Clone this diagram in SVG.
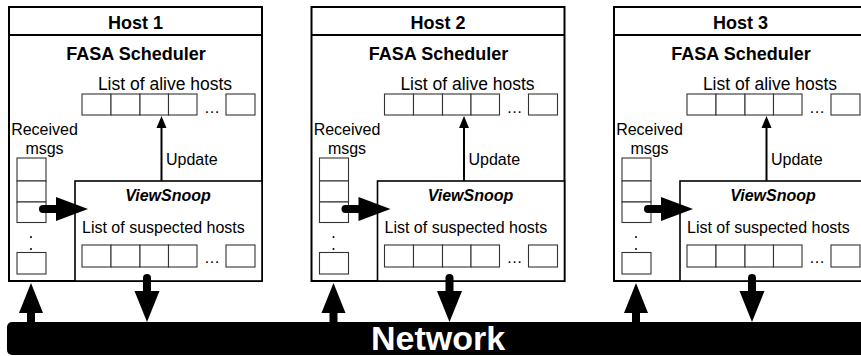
<svg xmlns="http://www.w3.org/2000/svg" width="861" height="356" viewBox="0 0 861 356">
  <defs>
    <style>
      text { font-family: "Liberation Sans", Arial, sans-serif; fill: #000; }
      .host { fill: #fff; stroke: #000; stroke-width: 2; }
      .sep { stroke: #000; stroke-width: 2; }
      .vs { fill: #fff; stroke: #000; stroke-width: 1.6; }
      .cell { fill: #fff; stroke: #333; stroke-width: 1.1; }
      .title { font-size: 18px; font-weight: bold; text-anchor: middle; }
      .label { font-size: 16px; }
      .big { font-size: 17.5px; }
      .mid { text-anchor: middle; }
      .vstitle { font-size: 16px; font-weight: bold; font-style: italic; text-anchor: middle; }
      .thin { stroke: #000; stroke-width: 2; fill: none; }
      .thick { stroke: #000; stroke-width: 8; stroke-linecap: round; fill: none; }
      .head { fill: #000; }
      .dot { fill: #000; }
    </style>
  </defs>

  <!-- network bus -->
  <g id="network">
    <rect x="7" y="322" width="880" height="33" rx="5" fill="#000"/>
    <text x="438" y="350" style="font-size:34px;font-weight:bold;fill:#fff;text-anchor:middle">Network</text>
  </g>

  <!-- hosts -->
  <g id="host1">
    <rect class="host" x="9" y="7" width="253" height="274"/>
    <line class="sep" x1="9" y1="35" x2="262" y2="35"/>
    <text class="title" x="135.5" y="29">Host 1</text>
    <text class="title" x="136" y="60">FASA Scheduler</text>
    <text class="label big mid" x="165" y="90">List of alive hosts</text>
    <rect class="cell" x="82" y="94" width="29" height="21"/>
    <rect class="cell" x="111" y="94" width="29" height="21"/>
    <rect class="cell" x="140" y="94" width="28.5" height="21"/>
    <rect class="cell" x="168.5" y="94" width="28.5" height="21"/>
    <text class="label mid" x="212" y="113">…</text>
    <rect class="cell" x="226" y="94" width="29" height="21"/>
    <text class="label mid" x="44.5" y="135">Received</text>
    <text class="label mid" x="44.5" y="154">msgs</text>
    <rect class="cell" x="17" y="158" width="29" height="23"/>
    <rect class="cell" x="17" y="181" width="29" height="21"/>
    <rect class="cell" x="17" y="202" width="29" height="20.5"/>
    <circle class="dot" cx="31" cy="237" r="1"/>
    <circle class="dot" cx="31" cy="249" r="1"/>
    <rect class="cell" x="17" y="252.5" width="29" height="21.5"/>
    <rect class="vs" x="75" y="181" width="187" height="100"/>
    <text class="label" x="166" y="165">Update</text>
    <text class="vstitle" x="168" y="201">ViewSnoop</text>
    <text class="label" x="82" y="233">List of suspected hosts</text>
    <rect class="cell" x="82" y="245" width="29" height="22"/>
    <rect class="cell" x="111" y="245" width="29" height="22"/>
    <rect class="cell" x="140" y="245" width="28.5" height="22"/>
    <rect class="cell" x="168.5" y="245" width="28.5" height="22"/>
    <text class="label mid" x="212" y="263">…</text>
    <rect class="cell" x="226" y="245" width="29" height="22"/>
  </g>

  <g id="host2" transform="translate(302.5,0)">
    <rect class="host" x="9" y="7" width="253" height="274"/>
    <line class="sep" x1="9" y1="35" x2="262" y2="35"/>
    <text class="title" x="135.5" y="29">Host 2</text>
    <text class="title" x="136" y="60">FASA Scheduler</text>
    <text class="label big mid" x="165" y="90">List of alive hosts</text>
    <rect class="cell" x="82" y="94" width="29" height="21"/>
    <rect class="cell" x="111" y="94" width="29" height="21"/>
    <rect class="cell" x="140" y="94" width="28.5" height="21"/>
    <rect class="cell" x="168.5" y="94" width="28.5" height="21"/>
    <text class="label mid" x="212" y="113">…</text>
    <rect class="cell" x="226" y="94" width="29" height="21"/>
    <text class="label mid" x="44.5" y="135">Received</text>
    <text class="label mid" x="44.5" y="154">msgs</text>
    <rect class="cell" x="17" y="158" width="29" height="23"/>
    <rect class="cell" x="17" y="181" width="29" height="21"/>
    <rect class="cell" x="17" y="202" width="29" height="20.5"/>
    <circle class="dot" cx="31" cy="237" r="1"/>
    <circle class="dot" cx="31" cy="249" r="1"/>
    <rect class="cell" x="17" y="252.5" width="29" height="21.5"/>
    <rect class="vs" x="75" y="181" width="187" height="100"/>
    <text class="label" x="166" y="165">Update</text>
    <text class="vstitle" x="168" y="201">ViewSnoop</text>
    <text class="label" x="82" y="233">List of suspected hosts</text>
    <rect class="cell" x="82" y="245" width="29" height="22"/>
    <rect class="cell" x="111" y="245" width="29" height="22"/>
    <rect class="cell" x="140" y="245" width="28.5" height="22"/>
    <rect class="cell" x="168.5" y="245" width="28.5" height="22"/>
    <text class="label mid" x="212" y="263">…</text>
    <rect class="cell" x="226" y="245" width="29" height="22"/>
  </g>

  <g id="host3" transform="translate(605,0)">
    <rect class="host" x="9" y="7" width="253" height="274"/>
    <line class="sep" x1="9" y1="35" x2="262" y2="35"/>
    <text class="title" x="135.5" y="29">Host 3</text>
    <text class="title" x="136" y="60">FASA Scheduler</text>
    <text class="label big mid" x="165" y="90">List of alive hosts</text>
    <rect class="cell" x="82" y="94" width="29" height="21"/>
    <rect class="cell" x="111" y="94" width="29" height="21"/>
    <rect class="cell" x="140" y="94" width="28.5" height="21"/>
    <rect class="cell" x="168.5" y="94" width="28.5" height="21"/>
    <text class="label mid" x="212" y="113">…</text>
    <rect class="cell" x="226" y="94" width="29" height="21"/>
    <text class="label mid" x="44.5" y="135">Received</text>
    <text class="label mid" x="44.5" y="154">msgs</text>
    <rect class="cell" x="17" y="158" width="29" height="23"/>
    <rect class="cell" x="17" y="181" width="29" height="21"/>
    <rect class="cell" x="17" y="202" width="29" height="20.5"/>
    <circle class="dot" cx="31" cy="237" r="1"/>
    <circle class="dot" cx="31" cy="249" r="1"/>
    <rect class="cell" x="17" y="252.5" width="29" height="21.5"/>
    <rect class="vs" x="75" y="181" width="187" height="100"/>
    <text class="label" x="166" y="165">Update</text>
    <text class="vstitle" x="168" y="201">ViewSnoop</text>
    <text class="label" x="82" y="233">List of suspected hosts</text>
    <rect class="cell" x="82" y="245" width="29" height="22"/>
    <rect class="cell" x="111" y="245" width="29" height="22"/>
    <rect class="cell" x="140" y="245" width="28.5" height="22"/>
    <rect class="cell" x="168.5" y="245" width="28.5" height="22"/>
    <text class="label mid" x="212" y="263">…</text>
    <rect class="cell" x="226" y="245" width="29" height="22"/>
  </g>

  <!-- connectors: update, msgs to ViewSnoop, host to/from network -->
  <g id="connectors">
    <g id="arrows-host1">
      <line class="thin" x1="161.5" y1="181" x2="161.5" y2="126"/>
      <polygon class="head" points="161.5,116 156.5,128 166.5,128"/>
      <line class="thick" x1="43" y1="209" x2="58" y2="209"/>
      <polygon class="head" points="56,197 88,209 56,221"/>
      <rect class="head" x="27" y="311" width="8" height="12"/>
      <polygon class="head" points="19,313 31,283 43,313"/>
      <line class="thick" x1="147" y1="278" x2="147" y2="293"/>
      <polygon class="head" points="134.5,291 159.5,291 147,322"/>
    </g>
    <g id="arrows-host2" transform="translate(302.5,0)">
      <line class="thin" x1="161.5" y1="181" x2="161.5" y2="126"/>
      <polygon class="head" points="161.5,116 156.5,128 166.5,128"/>
      <line class="thick" x1="43" y1="209" x2="58" y2="209"/>
      <polygon class="head" points="56,197 88,209 56,221"/>
      <rect class="head" x="27" y="311" width="8" height="12"/>
      <polygon class="head" points="19,313 31,283 43,313"/>
      <line class="thick" x1="147" y1="278" x2="147" y2="293"/>
      <polygon class="head" points="134.5,291 159.5,291 147,322"/>
    </g>
    <g id="arrows-host3" transform="translate(605,0)">
      <line class="thin" x1="161.5" y1="181" x2="161.5" y2="126"/>
      <polygon class="head" points="161.5,116 156.5,128 166.5,128"/>
      <line class="thick" x1="43" y1="209" x2="58" y2="209"/>
      <polygon class="head" points="56,197 88,209 56,221"/>
      <rect class="head" x="27" y="311" width="8" height="12"/>
      <polygon class="head" points="19,313 31,283 43,313"/>
      <line class="thick" x1="147" y1="278" x2="147" y2="293"/>
      <polygon class="head" points="134.5,291 159.5,291 147,322"/>
    </g>
  </g>
</svg>
